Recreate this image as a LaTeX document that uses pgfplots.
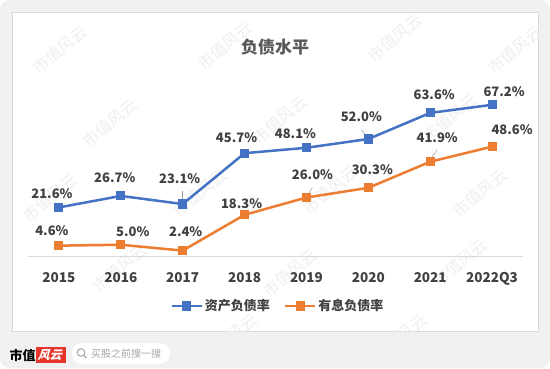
\documentclass[border=0pt]{standalone}
\usepackage{pgfplots}
\pgfplotsset{compat=1.18}
\usepackage{pgfplotstable}
\usepackage{fontspec}
\setmainfont{Noto Sans CJK SC}
\definecolor{cblue}{HTML}{4472C4}
\definecolor{corange}{HTML}{ED7D31}
\definecolor{txt}{HTML}{404040}
\definecolor{ttl}{HTML}{595959}
\definecolor{bg}{HTML}{F1F1F1}
\definecolor{axgray}{HTML}{D9D9D9}
\definecolor{wm}{HTML}{EFEFEF}
\definecolor{logored}{HTML}{E8352B}

\pgfplotstableread{
x y dx dy
0 21.6 -7 14
1 26.7 -6 18
2 23.1 -3 25
3 45.7 -8 16
4 48.1 -11 14
5 52.0 -7 22
6 63.6 4 18
7 67.2 12 13
}\blueT
\pgfplotstableread{
x y dx dy
0 4.6 -7 15
1 5.0 12 13
2 2.4 3 19
3 18.3 -3 11
4 26.0 6 23
5 30.3 4 18
6 41.9 7 24
7 48.6 20 17
}\orangeT

\begin{document}
\begin{tikzpicture}[x=1bp,y=1bp]
\useasboundingbox (0,0) rectangle (550,368);
\fill[white] (0,0) rectangle (550,368);
\fill[bg, rounded corners=10bp] (0,0) rectangle (550,368);
\fill[white] (12,37) rectangle (538,356);
\draw[axgray, line width=0.8bp] (12,37) rectangle (538,356);
% watermarks
\foreach \wx/\wy in {60/318, 225/322, 395/330, 515/318, 110/245, 280/248, 450/250, 50/170, 200/175, 330/178, 480/175, 120/100, 290/95, 460/105, 230/30, 400/30}{
    \node[text=wm, rotate=40, font=\fontsize{16bp}{16bp}\selectfont] at (\wx,\wy) {市值风云};
}
% title
\node[text=ttl, font=\bfseries\fontsize{17bp}{20bp}\selectfont] at (275,321) {负债水平};
\begin{axis}[
  at={(28bp,112bp)}, anchor=south west, scale only axis,
  width=495bp, height=180bp,
  xmin=-0.5, xmax=7.5, ymin=0, ymax=80,
  axis y line=none,
  axis x line*=bottom,
  x axis line style={draw=axgray, line width=0.8bp, -},
  xtick={0,...,7},
  xticklabels={2015,2016,2017,2018,2019,2020,2021,2022Q3},
  major tick length=0pt,
  xticklabel style={anchor=base, yshift=-26bp, text=txt, font=\bfseries\fontsize{13.5bp}{15bp}\selectfont},
  clip=false,
  /pgf/number format/assume math mode=true,
  every axis plot/.append style={line width=2.5bp, mark=square*, mark size=3.3bp, mark options={solid}},
  point meta=y,
  nodes near coords={\pgfmathprintnumber[fixed,fixed zerofill,precision=1,assume math mode=true]{\pgfplotspointmeta}\%},
  visualization depends on={\thisrow{dx}\as\dx},
  visualization depends on={\thisrow{dy}\as\dy},
  every node near coord/.append style={anchor=center, xshift=\dx bp, yshift=\dy bp, text=txt, font=\bfseries\fontsize{13bp}{15bp}\selectfont},
  legend style={at={(0.505,-0.278)}, anchor=center, legend columns=2, draw=none, fill=none,
    font=\bfseries\fontsize{13bp}{15bp}\selectfont, text=txt,
    /tikz/every even column/.append style={column sep=12bp}},
  legend image code/.code={\draw[mark repeat=2,mark phase=2,#1] plot coordinates {(0bp,0bp) (15bp,0bp) (30bp,0bp)};},
]
\addplot[cblue] table[x=x,y=y] {\blueT};
\addlegendentry{资产负债率}
\addplot[corange] table[x=x,y=y] {\orangeT};
\addlegendentry{有息负债率}
% leader lines
\draw[gray!80, line width=0.5bp] (axis cs:2,24.9) -- (axis cs:2,29.0);
\draw[gray!80, line width=0.5bp] (axis cs:4.97,53.3) -- (axis cs:4.887,56);
\draw[gray!80, line width=0.5bp] (axis cs:4.016,26.9) -- (axis cs:4.097,30.4);
\draw[gray!80, line width=0.5bp] (axis cs:6.0,42.8) -- (axis cs:6.113,47.2);
\end{axis}
% bottom logo
\node[font=\bfseries\fontsize{13bp}{13bp}\selectfont, text=black] at (22.5,13) {市值};
\fill[logored] (36,5) rectangle (66,21);
\node[xslant=0.3, font=\bfseries\fontsize{12bp}{12bp}\selectfont, text=white] at (51,13) {风云};
\fill[white, rounded corners=10bp] (72,4) rectangle (170,25);
\draw[gray!70, line width=1bp] (81,15.5) circle (3.8);
\draw[gray!70, line width=1.2bp] (83.8,12.7) -- (86.5,10);
\node[text=gray!70, font=\fontsize{10bp}{10bp}\selectfont] at (126,14.5) {买股之前搜一搜};
\end{tikzpicture}
\end{document}
